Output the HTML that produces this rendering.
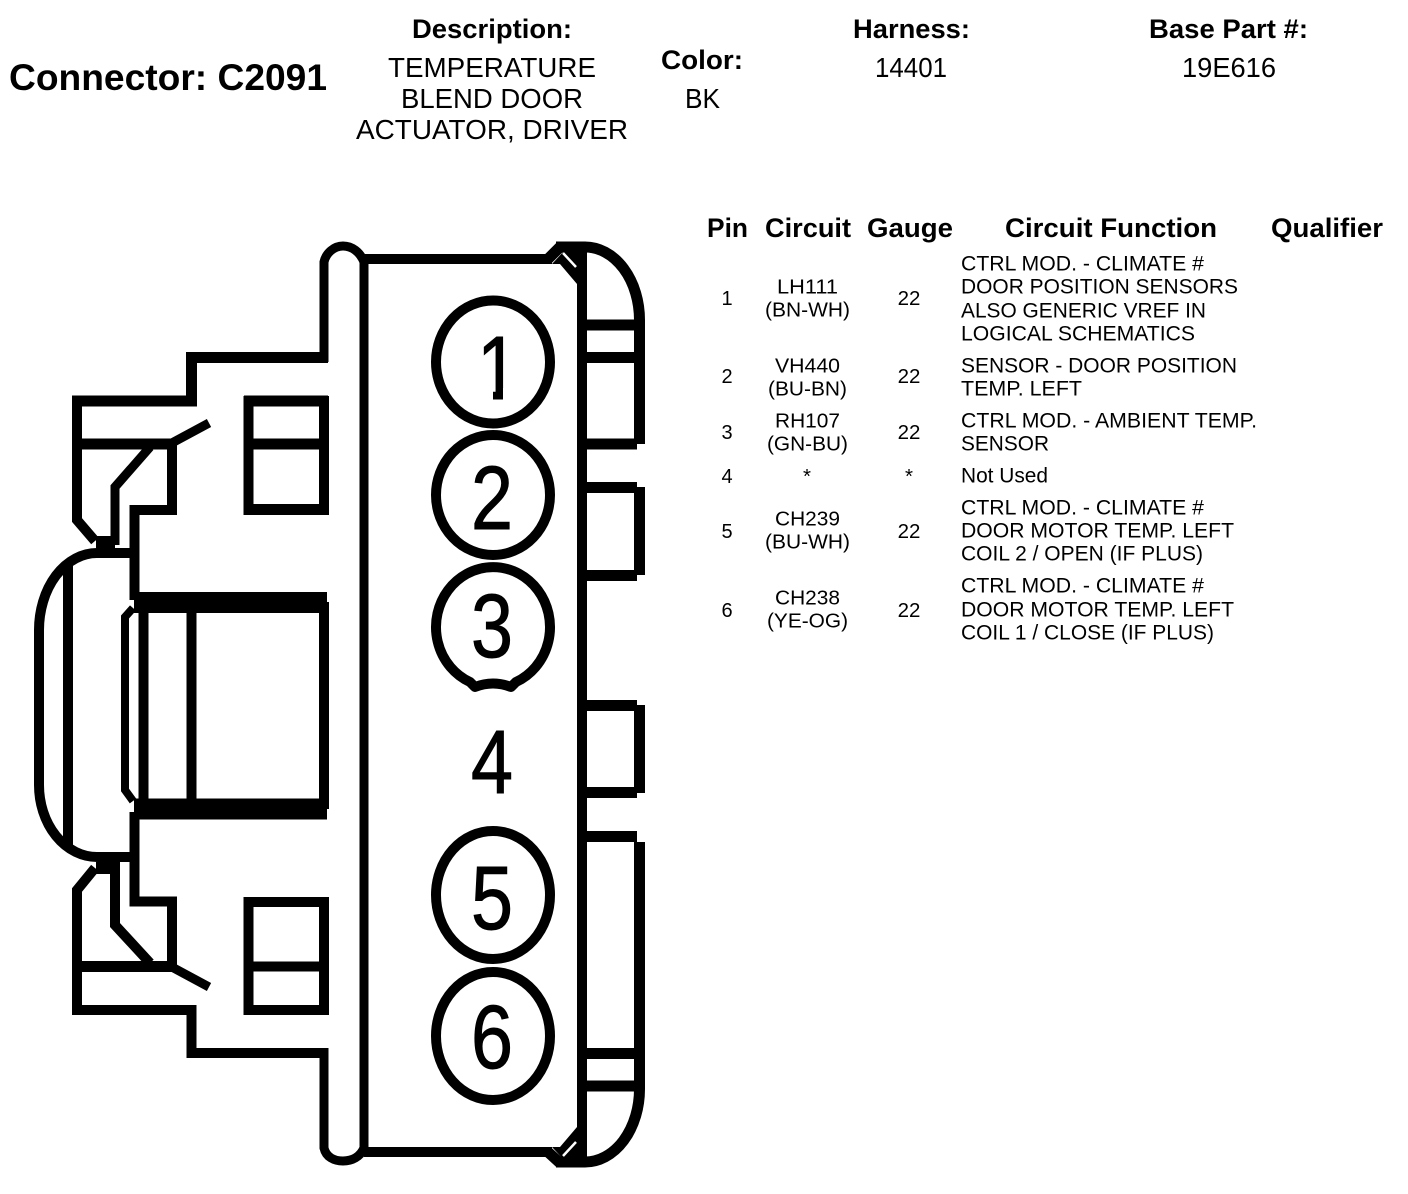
<!DOCTYPE html>
<html>
<head>
<meta charset="utf-8">
<style>
html,body{margin:0;padding:0;background:#fff;}
svg{display:block;}
text{font-family:"Liberation Sans",Arial,sans-serif;fill:#000;}
.b{font-weight:bold;}
</style>
</head>
<body>
<svg width="1408" height="1194" viewBox="0 0 1408 1194" xmlns="http://www.w3.org/2000/svg">
<rect width="1408" height="1194" fill="#fff"/>

<!-- header -->
<g>
<text class="b" x="9" y="90" font-size="37" textLength="318" lengthAdjust="spacingAndGlyphs">Connector: C2091</text>
<text class="b" x="412" y="38" font-size="27" textLength="160" lengthAdjust="spacingAndGlyphs">Description:</text>
<text x="388" y="77" font-size="28" textLength="208" lengthAdjust="spacingAndGlyphs">TEMPERATURE</text>
<text x="401" y="108" font-size="28" textLength="182" lengthAdjust="spacingAndGlyphs">BLEND DOOR</text>
<text x="356" y="139" font-size="28" textLength="272" lengthAdjust="spacingAndGlyphs">ACTUATOR, DRIVER</text>
<text class="b" x="661" y="69" font-size="27" textLength="82" lengthAdjust="spacingAndGlyphs">Color:</text>
<text x="685" y="108" font-size="28" textLength="35" lengthAdjust="spacingAndGlyphs">BK</text>
<text class="b" x="853" y="38" font-size="27" textLength="117" lengthAdjust="spacingAndGlyphs">Harness:</text>
<text x="875" y="77" font-size="28" textLength="72" lengthAdjust="spacingAndGlyphs">14401</text>
<text class="b" x="1149" y="38" font-size="27" textLength="159" lengthAdjust="spacingAndGlyphs">Base Part #:</text>
<text x="1182" y="77" font-size="28" textLength="94" lengthAdjust="spacingAndGlyphs">19E616</text>
</g>

<!-- table header -->
<g class="b" font-size="27">
<text class="b" x="707" y="237" textLength="41" lengthAdjust="spacingAndGlyphs">Pin</text>
<text class="b" x="765" y="237" textLength="86" lengthAdjust="spacingAndGlyphs">Circuit</text>
<text class="b" x="867" y="237" textLength="86" lengthAdjust="spacingAndGlyphs">Gauge</text>
<text class="b" x="1005" y="237" textLength="212" lengthAdjust="spacingAndGlyphs">Circuit Function</text>
<text class="b" x="1271" y="237" textLength="112" lengthAdjust="spacingAndGlyphs">Qualifier</text>
</g>

<!-- pin col -->
<g font-size="20" text-anchor="middle">
<text x="727" y="305">1</text>
<text x="727" y="383">2</text>
<text x="727" y="439">3</text>
<text x="727" y="483">4</text>
<text x="727" y="538">5</text>
<text x="727" y="617">6</text>
</g>
<!-- circuit col -->
<g font-size="20.5">
<text x="777" y="293.5" textLength="61" lengthAdjust="spacingAndGlyphs">LH111</text>
<text x="765" y="316.5" textLength="85" lengthAdjust="spacingAndGlyphs">(BN-WH)</text>
<text x="775" y="372.5" textLength="65" lengthAdjust="spacingAndGlyphs">VH440</text>
<text x="768" y="395.5" textLength="79" lengthAdjust="spacingAndGlyphs">(BU-BN)</text>
<text x="775" y="427.5" textLength="65" lengthAdjust="spacingAndGlyphs">RH107</text>
<text x="767" y="450.5" textLength="81" lengthAdjust="spacingAndGlyphs">(GN-BU)</text>
<text x="807" y="483" text-anchor="middle">*</text>
<text x="775" y="525.5" textLength="65" lengthAdjust="spacingAndGlyphs">CH239</text>
<text x="765" y="548.5" textLength="85" lengthAdjust="spacingAndGlyphs">(BU-WH)</text>
<text x="775" y="604.5" textLength="65" lengthAdjust="spacingAndGlyphs">CH238</text>
<text x="767" y="627.5" textLength="81" lengthAdjust="spacingAndGlyphs">(YE-OG)</text>
</g>
<!-- gauge col -->
<g font-size="20.5" text-anchor="middle">
<text x="909" y="305">22</text>
<text x="909" y="383">22</text>
<text x="909" y="439">22</text>
<text x="909" y="483">*</text>
<text x="909" y="538">22</text>
<text x="909" y="617">22</text>
</g>
<!-- function col -->
<g font-size="21">
<text x="961" y="270.5" textLength="243" lengthAdjust="spacingAndGlyphs">CTRL MOD. - CLIMATE #</text>
<text x="961" y="293.5" textLength="277" lengthAdjust="spacingAndGlyphs">DOOR POSITION SENSORS</text>
<text x="961" y="317.5" textLength="245" lengthAdjust="spacingAndGlyphs">ALSO GENERIC VREF IN</text>
<text x="961" y="340.5" textLength="234" lengthAdjust="spacingAndGlyphs">LOGICAL SCHEMATICS</text>
<text x="961" y="372.5" textLength="276" lengthAdjust="spacingAndGlyphs">SENSOR - DOOR POSITION</text>
<text x="961" y="395.5" textLength="121" lengthAdjust="spacingAndGlyphs">TEMP. LEFT</text>
<text x="961" y="427.5" textLength="296" lengthAdjust="spacingAndGlyphs">CTRL MOD. - AMBIENT TEMP.</text>
<text x="961" y="450.5" textLength="88" lengthAdjust="spacingAndGlyphs">SENSOR</text>
<text x="961" y="482.5" textLength="87" lengthAdjust="spacingAndGlyphs">Not Used</text>
<text x="961" y="514.5" textLength="243" lengthAdjust="spacingAndGlyphs">CTRL MOD. - CLIMATE #</text>
<text x="961" y="537.5" textLength="273" lengthAdjust="spacingAndGlyphs">DOOR MOTOR TEMP. LEFT</text>
<text x="961" y="560.5" textLength="242" lengthAdjust="spacingAndGlyphs">COIL 2 / OPEN (IF PLUS)</text>
<text x="961" y="592.5" textLength="243" lengthAdjust="spacingAndGlyphs">CTRL MOD. - CLIMATE #</text>
<text x="961" y="616.5" textLength="273" lengthAdjust="spacingAndGlyphs">DOOR MOTOR TEMP. LEFT</text>
<text x="961" y="639.5" textLength="253" lengthAdjust="spacingAndGlyphs">COIL 1 / CLOSE (IF PLUS)</text>
</g>

<!-- connector drawing -->
<g fill="none" stroke="#000" stroke-width="10" stroke-linejoin="miter" stroke-linecap="butt">
  <!-- main body -->
  <path stroke-width="9" d="M364 259V1152"/>
  <path d="M364 259H552M364 1152H552"/>
  <path d="M582 250V1160"/>
  <path stroke-width="11" d="M548 259L560 247M548 1152L560 1163"/>
  <!-- right top/bottom arcs -->
  <path stroke-width="11" d="M556 247H585A54.5 73 0 0 1 639.5 320V444"/>
  <path stroke-width="11" d="M556 1162H585A54.5 73 0 0 0 639.5 1089V842"/>
  <!-- right slots -->
  <path stroke-width="11" d="M582 325H640M582 357.5H640M582 444H637"/>
  <path stroke-width="11" d="M582 487.5H637M639.5 487V575M582 575.5H637"/>
  <path stroke-width="11" d="M582 705.5H637M639.5 705V793M582 792.5H637"/>
  <path stroke-width="11" d="M582 836.5H637M582 1053.5H640M582 1086H640"/>

  <!-- left tabs (top and bottom) -->
  <path stroke-width="9" d="M324 362V262C326 253 334 246 343 246C352 246 360 252 364 262"/>
  <path stroke-width="9" d="M324 1048V1148C326 1157 334 1161 343 1161C352 1161 360 1157 364 1148"/>

  <!-- upper outline -->
  <path stroke-width="11" d="M328 357.5H191.5V401H72"/>
  <path d="M77 396V520L95 541"/>
  <path stroke-width="11" d="M77 444H172"/>
  <path d="M172 439V510H134.5V600"/>
  <path stroke-width="9" d="M170 444L209 423"/>
  <path stroke-width="9" d="M150 447L115 487V545"/>
  <path stroke-width="10" d="M134 553H97A58 77 0 0 0 39 630V785A58 72 0 0 0 97 857H134"/>
  <path d="M68 565V845"/>
  <path stroke-width="12" d="M96 542H115M96 868H115"/>

  <!-- lower outline -->
  <path d="M134.5 812V901.5H172V966"/>
  <path stroke-width="11" d="M77 966.5H172"/>
  <path d="M95 868L77 890V1015"/>
  <path stroke-width="10" d="M72 1010H191.5V1053H328"/>
  <path stroke-width="9" d="M170 966L209 987"/>
  <path d="M115 862V925L150 963"/>

  <!-- center rect -->
  <path stroke-width="21" d="M134 602.5H327M134 809H327"/>
  <path d="M143.5 602V809M191.5 602V809M324 602V809"/>
  <path stroke-width="8" d="M133 608L125 617V790L133 801"/>

  <!-- upper small rect -->
  <path stroke-width="11" d="M244 401H328M244 444H328M244 509.5H328"/>
  <path d="M248.5 396V515M324 396V515"/>
  <!-- lower small rect -->
  <path stroke-width="10" d="M244 902H328M244 966.5H328M244 1010H328"/>
  <path d="M248.5 897V1015M324 897V1015"/>

  <!-- pin ovals -->
  <ellipse cx="493" cy="362" rx="57" ry="61.5"/>
  <ellipse cx="493" cy="495" rx="57" ry="60"/>
  <path stroke-linejoin="round" d="M470 682A57 60 0 1 1 516 682L511 687Q493 680 475 687Z"/>
  <ellipse cx="493" cy="895" rx="57" ry="64"/>
  <ellipse cx="493" cy="1036" rx="57" ry="64"/>
</g>
<!-- wedges at right corners -->
<path d="M552 264L560 264L577 284L582 284L582 250L565 250Z" fill="#000"/>
<path d="M552 1147L560 1147L577 1127L582 1127L582 1161L565 1161Z" fill="#000"/>
<path d="M563 253L576 267" stroke="#fff" stroke-width="2.5" fill="none"/>
<path d="M563 1156L576 1142" stroke="#fff" stroke-width="2.5" fill="none"/>

<!-- pin numbers -->
<g font-size="90" stroke="#000" stroke-width="1">
<text x="477" y="399" textLength="42" lengthAdjust="spacingAndGlyphs">1</text>
<text x="471" y="529" textLength="42" lengthAdjust="spacingAndGlyphs">2</text>
<text x="471" y="657" textLength="42" lengthAdjust="spacingAndGlyphs">3</text>
<text x="471" y="793" textLength="42" lengthAdjust="spacingAndGlyphs">4</text>
<text x="471" y="929" textLength="42" lengthAdjust="spacingAndGlyphs">5</text>
<text x="471" y="1068" textLength="42" lengthAdjust="spacingAndGlyphs">6</text>
</g>
<!-- remove the foot of the 1 -->
<rect x="472" y="388" width="21" height="13" fill="#fff"/>
<rect x="503" y="388" width="18" height="13" fill="#fff"/>
</svg>
</body>
</html>
